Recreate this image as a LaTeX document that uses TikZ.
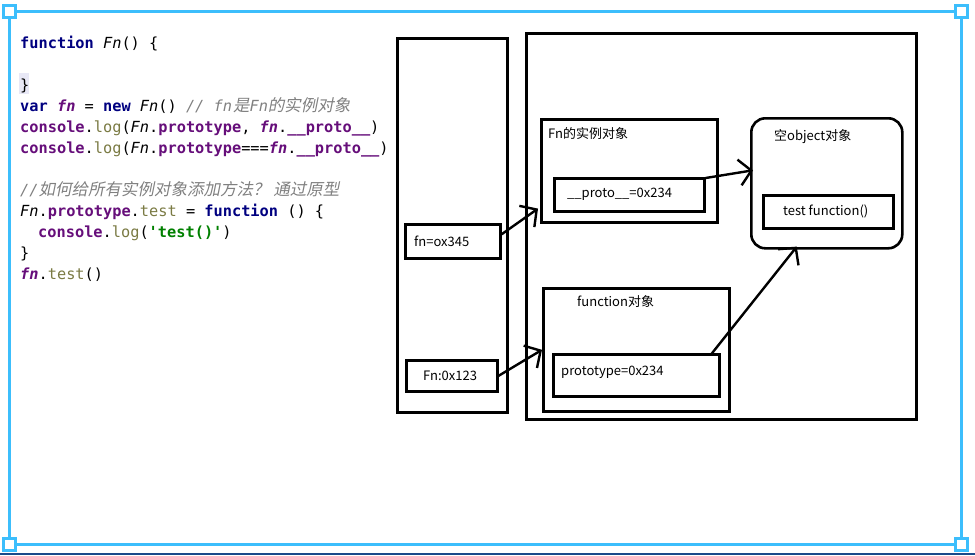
\documentclass[tikz,border=0pt]{standalone}
\usepackage{fontspec}
\usetikzlibrary{arrows.meta}
\setmonofont{DejaVu Sans Mono}
\newfontfamily\cjkup{Noto Sans CJK SC}
\newfontfamily\cjkit[FakeSlant=0.2]{Noto Sans CJK SC}
\newfontfamily\dfont{Noto Sans CJK SC}
\definecolor{kwc}{HTML}{000080}
\definecolor{puc}{HTML}{660E7A}
\definecolor{olc}{HTML}{7A7A43}
\definecolor{cmc}{HTML}{808080}
\definecolor{stc}{HTML}{008000}
\definecolor{framec}{HTML}{3CBEFC}
\definecolor{darkline}{HTML}{1A4A8A}
\definecolor{hlc}{HTML}{E8E8F6}
\newcommand\Ckw[1]{{\color{kwc}\bfseries #1}}
\newcommand\Cpu[1]{{\color{puc}\bfseries #1}}
\newcommand\Col[1]{{\color{olc}#1}}
\newcommand\CFn{{\itshape Fn}}
\newcommand\Cfn{{\color{puc}\bfseries\itshape fn}}
\newcommand\Ccm[1]{{\color{cmc}\itshape #1}}
\newcommand\Cst[1]{{\color{stc}\bfseries #1}}
\newcommand\Ccj[1]{{\cjkit\fontsize{16.5}{21}\selectfont #1}}
\tikzset{
  box/.style={draw, line width=2.6pt, inner sep=0pt, anchor=north west},
  lbl/.style={font=\dfont\fontsize{13}{15}\selectfont, inner sep=0pt, anchor=west},
  arr/.style={line width=2.4pt, -{Straight Barb[length=12pt,width=26pt]}},
  code/.style={font=\ttfamily\fontsize{15.3}{21}\selectfont, inner sep=0pt, anchor=base west},
  handle/.style={draw=framec, line width=3pt, fill=white},
}
\begin{document}
\begin{tikzpicture}[x=1pt,y=-1pt]
\useasboundingbox (0,0) rectangle (975,555);
% frame
\draw[framec, line width=3pt] (9,11) rectangle (961,544);
\draw[handle] (3,5) rectangle (15,17);
\draw[handle] (955,5) rectangle (967,17);
\draw[handle] (3,538) rectangle (15,550);
\draw[handle] (955,538) rectangle (967,550);
\fill[darkline] (0,553) rectangle (975,555);
% code
\fill[hlc] (19,73) rectangle (29,94);
\node[code] (c1) at (20,48) {\Ckw{function} \CFn() \{};
\node[code] (c3) at (20,90) {\}};
\node[code] (c4) at (20,111) {\Ckw{var} \Cfn{} = \Ckw{new} \CFn() \Ccm{// fn\kern1pt\Ccj{是}Fn\Ccj{的实例对象}}};
\node[code] (c5) at (20,132) {\Cpu{console}.\Col{log}(\CFn.\Cpu{prototype}, \Cfn.\Cpu{\_\_proto\_\_})};
\node[code] (c6) at (20,153) {\Cpu{console}.\Col{log}(\CFn.\Cpu{prototype}===\Cfn.\Cpu{\_\_proto\_\_})};
\node[code] (c8) at (20,195) {\Ccm{//\Ccj{如何给所有实例对象添加方法？ 通过原型}}};
\node[code] (c9) at (20,216) {\CFn.\Cpu{prototype}.\Col{test} = \Ckw{function} () \{};
\node[code] (c10) at (38,237) {\Cpu{console}.\Col{log}(\Cst{'test()'})};
\node[code] (c11) at (20,258) {\}};
\node[code] (c12) at (20,279) {\Cfn.\Col{test}()};
% boxes
\node[box, minimum width=110, minimum height=374] (stack) at (396,37) {};
\node[box, minimum width=390, minimum height=386] (heap) at (525,32) {};
\node[box, minimum width=95, minimum height=34] (fnv) at (404,223) {};
\node[box, minimum width=91, minimum height=31] (Fnv) at (405,359) {};
\node[box, minimum width=176, minimum height=103] (inst) at (540,118) {};
\node[box, minimum width=150, minimum height=33] (proto) at (553,177) {};
\node[box, minimum width=186, minimum height=123] (func) at (542,287) {};
\node[box, minimum width=166, minimum height=42] (ptype) at (552,353) {};
\node[box, minimum width=151, minimum height=130, rounded corners=14pt] (obj) at (750,117) {};
\node[box, minimum width=130, minimum height=33] (tf) at (762,194) {};
% labels
\node[lbl] (l1) at (414,241) {fn=ox345};
\node[lbl] (l2) at (423,376) {Fn:0x123};
\node[lbl] (l3) at (548,134) {Fn的实例对象};
\node[lbl] (l4) at (567,194) {\_\_proto\_\_=0x234};
\node[lbl] (l5) at (577,302) {function对象};
\node[lbl] (l6) at (561,372) {prototype=0x234};
\node[lbl] (l7) at (774,137) {空object对象};
\node[lbl] (l8) at (783,211) {test function()};
% arrows
\draw[arr] ([shift={(0,-7)}]fnv.east) -- ([shift={(-2,-15)}]inst.south west);
\draw[arr] (Fnv.east) -- (func.west);
\draw[arr] ([shift={(0,1)}]proto.north east) -- ([shift={(3,-13)}]obj.west);
\draw[arr] ([shift={(-10,2)}]ptype.north east) -- ([shift={(-30,-3)}]obj.south);
\end{tikzpicture}
\end{document}
